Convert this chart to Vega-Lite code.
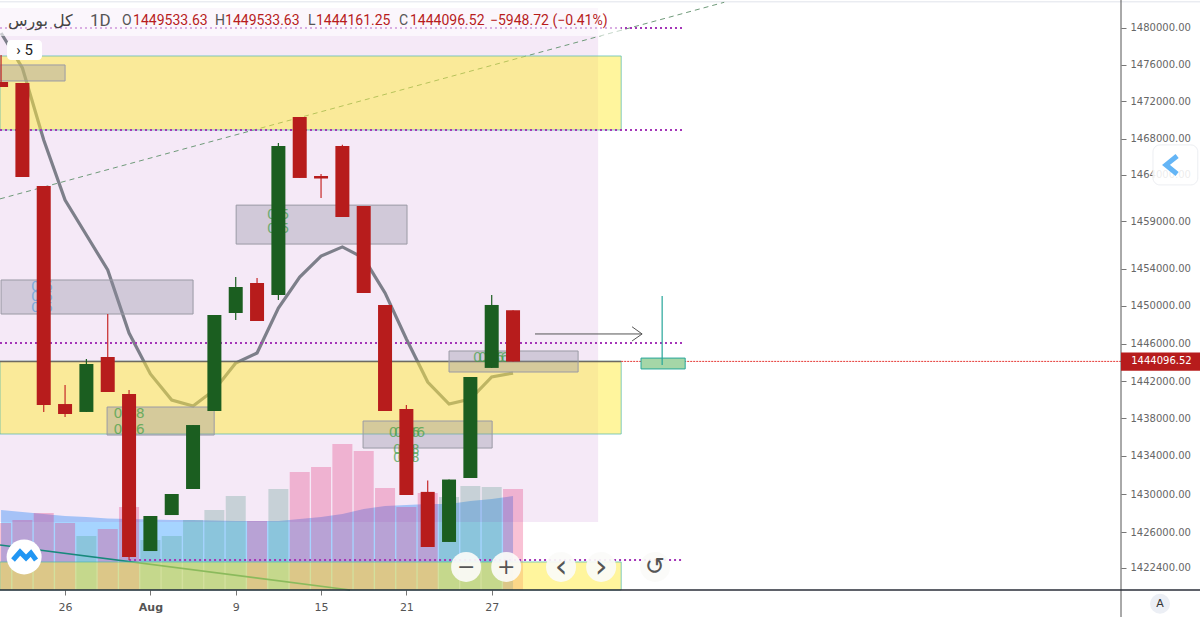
{
"$schema":"https://vega.github.io/schema/vega-lite/v6.json",
"autosize":"none","padding":{"left":0,"top":0,"right":79,"bottom":27},
"width":1121,"height":590,"background":"white",
"config":{"view":{"stroke":null}},
"datasets":{
"candles":[
{"bar":0,"open":1474100,"close":1473550,"high":1477030,"low":1473550},
{"bar":1,"open":1473980,"close":1463750,"high":1473980,"low":1463750},
{"bar":2,"open":1462790,"close":1439430,"high":1462790,"low":1438680},
{"bar":3,"open":1439530,"close":1438460,"high":1441570,"low":1438140},
{"bar":4,"open":1438680,"close":1443820,"high":1444350,"low":1438680},
{"bar":5,"open":1444570,"close":1440820,"high":1449130,"low":1440820},
{"bar":6,"open":1440600,"close":1423465,"high":1441040,"low":1423160},
{"bar":7,"open":1424070,"close":1427700,"high":1427700,"low":1424070},
{"bar":8,"open":1427800,"close":1430030,"high":1430030,"low":1427800},
{"bar":9,"open":1430550,"close":1437280,"high":1437280,"low":1430550},
{"bar":10,"open":1438780,"close":1449025,"high":1449025,"low":1438780},
{"bar":11,"open":1449240,"close":1452030,"high":1453110,"low":1448500},
{"bar":12,"open":1452470,"close":1448390,"high":1453000,"low":1448390},
{"bar":13,"open":1451170,"close":1467170,"high":1467500,"low":1450630},
{"bar":14,"open":1470300,"close":1463650,"high":1470300,"low":1463650},
{"bar":15,"open":1463860,"close":1463590,"high":1464070,"low":1461500},
{"bar":16,"open":1467170,"close":1459450,"high":1467300,"low":1459450},
{"bar":17,"open":1460630,"close":1451390,"high":1460630,"low":1451390},
{"bar":18,"open":1450090,"close":1438780,"high":1450090,"low":1438780},
{"bar":19,"open":1439000,"close":1429920,"high":1439430,"low":1429920},
{"bar":20,"open":1430250,"close":1424480,"high":1431430,"low":1424480},
{"bar":21,"open":1424990,"close":1431530,"high":1431530,"low":1424990},
{"bar":22,"open":1431690,"close":1442430,"high":1442430,"low":1431690},
{"bar":23,"open":1443400,"close":1450090,"high":1451170,"low":1443400},
{"bar":24,"open":1449533.63,"close":1444096.52,"high":1449533.63,"low":1444096.52}
],
"ma":[
{"bar":0,"price":1479400},{"bar":1,"price":1475620},{"bar":2,"price":1467840},{"bar":3,"price":1461270},{"bar":4,"price":1457550},{"bar":5,"price":1453870},{"bar":6,"price":1447120},{"bar":7,"price":1442750},{"bar":8,"price":1439960},{"bar":9,"price":1439320},{"bar":10,"price":1441040},{"bar":11,"price":1443930},{"bar":12,"price":1445000},{"bar":13,"price":1449770},{"bar":14,"price":1453100},{"bar":15,"price":1455340},{"bar":16,"price":1456300},{"bar":17,"price":1455130},{"bar":18,"price":1451390},{"bar":19,"price":1446490},{"bar":20,"price":1441890},{"bar":21,"price":1439530},{"bar":22,"price":1440070},{"bar":23,"price":1442430},{"bar":24,"price":1442850}
],
"volume":[
{"bar":0,"vol":670,"volMa":800,"dir":"down"},{"bar":1,"vol":700,"volMa":780,"dir":"down"},{"bar":2,"vol":770,"volMa":760,"dir":"down"},{"bar":3,"vol":670,"volMa":740,"dir":"down"},{"bar":4,"vol":540,"volMa":730,"dir":"up"},{"bar":5,"vol":610,"volMa":715,"dir":"down"},{"bar":6,"vol":830,"volMa":710,"dir":"down"},{"bar":7,"vol":500,"volMa":705,"dir":"up"},{"bar":8,"vol":540,"volMa":700,"dir":"up"},{"bar":9,"vol":700,"volMa":700,"dir":"up"},{"bar":10,"vol":800,"volMa":695,"dir":"up"},{"bar":11,"vol":940,"volMa":690,"dir":"up"},{"bar":12,"vol":690,"volMa":690,"dir":"down"},{"bar":13,"vol":1010,"volMa":690,"dir":"up"},{"bar":14,"vol":1180,"volMa":710,"dir":"down"},{"bar":15,"vol":1230,"volMa":730,"dir":"down"},{"bar":16,"vol":1460,"volMa":760,"dir":"down"},{"bar":17,"vol":1390,"volMa":810,"dir":"down"},{"bar":18,"vol":1020,"volMa":840,"dir":"down"},{"bar":19,"vol":830,"volMa":850,"dir":"down"},{"bar":20,"vol":970,"volMa":860,"dir":"down"},{"bar":21,"vol":930,"volMa":860,"dir":"up"},{"bar":22,"vol":1040,"volMa":890,"dir":"up"},{"bar":23,"vol":1030,"volMa":910,"dir":"up"},{"bar":24,"vol":1010,"volMa":940,"dir":"down"}
],
"yellowZones":[
{"bar":-0.05,"bar2":29.07,"price":1476920,"price2":1468910},
{"bar":-0.05,"bar2":29.07,"price":1444110,"price2":1436320},
{"bar":-0.05,"bar2":29.07,"price":1422960,"price2":1420100}
],
"grayBoxes":[
{"bar":0,"bar2":9,"price":1452790,"price2":1449130},
{"bar":11.02,"bar2":19.03,"price":1460730,"price2":1456600},
{"bar":4.97,"bar2":9.99,"price":1439210,"price2":1436210},
{"bar":16.97,"bar2":23.02,"price":1437710,"price2":1434820},
{"bar":21,"bar2":27.05,"price":1445210,"price2":1442960},
{"bar":-0.05,"bar2":3,"price":1475950,"price2":1474200}
],
"dotted":[
{"bar":-0.05,"bar2":31.97,"price":1479950},
{"bar":-0.05,"bar2":31.97,"price":1468910},
{"bar":-0.05,"bar2":31.97,"price":1446060},
{"bar":6,"bar2":31.97,"price":1423160}
],
"lvlLabels":[
{"bar":1.92,"price":1452030,"t":"0.5","c":"blue"},{"bar":1.92,"price":1450950,"t":"0.5","c":"blue"},{"bar":1.92,"price":1449770,"t":"0.5","c":"blue"},
{"bar":12.99,"price":1459660,"t":"0.5","c":"green"},{"bar":12.99,"price":1458180,"t":"0.5","c":"green"},
{"bar":6,"price":1438460,"t":"0.88","c":"green"},{"bar":6,"price":1436750,"t":"0.36","c":"green"},
{"bar":18.9,"price":1436430,"t":"0.36","c":"green"},{"bar":19.15,"price":1436430,"t":"0.36","c":"green"},
{"bar":18.9,"price":1434600,"t":"0.8","c":"green"},{"bar":19.1,"price":1434600,"t":"0.8","c":"green"},{"bar":18.9,"price":1433750,"t":"0.8","c":"green"},{"bar":19.1,"price":1433750,"t":"0.8","c":"green"},
{"bar":22.85,"price":1444450,"t":"0.36","c":"green"},{"bar":23.1,"price":1444450,"t":"0.36","c":"green"}
],
"header":[
{"bar":5.67,"price":1480700,"t":"O","c":"#555555"},{"bar":6.19,"price":1480700,"t":"1449533.63","c":"#b71c1c"},
{"bar":10.03,"price":1480700,"t":"H","c":"#555555"},{"bar":10.5,"price":1480700,"t":"1449533.63","c":"#b71c1c"},
{"bar":14.39,"price":1480700,"t":"L","c":"#555555"},{"bar":14.76,"price":1480700,"t":"1444161.25","c":"#b71c1c"},
{"bar":18.66,"price":1480700,"t":"C","c":"#555555"},{"bar":19.17,"price":1480700,"t":"1444096.52","c":"#b71c1c"},
{"bar":22.92,"price":1480700,"t":"−5948.72 (−0.41%)","c":"#b71c1c"}
],
"buttons":[
{"bar":21.8,"price":1422460,"t":"−","fs":22},{"bar":23.68,"price":1422460,"t":"+","fs":22},{"bar":26.25,"price":1422460,"t":"‹","fs":32},{"bar":28.13,"price":1422460,"t":"›","fs":32},{"bar":30.66,"price":1422460,"t":"↺","fs":24}
]
},
"encoding":{"x":{"field":"bar","type":"quantitative","title":null,
 "scale":{"domain":[-0.05,52.5],"nice":false,"zero":false,"padding":0},
 "axis":{"values":[3,7,11,15,19,23],"grid":false,"domain":false,"tickColor":"#777777","tickSize":5,"labelFont":"DejaVu Sans","labelFontSize":11,"labelColor":"#555555","labelPadding":6,"labelFontWeight":{"expr":"datum.value==7?'bold':'normal'"},
 "labelExpr":"datum.value==3?'26':datum.value==7?'Aug':datum.value==11?'9':datum.value==15?'15':datum.value==19?'21':'27'"}}},
"layer":[
{"encoding":{"y":{"field":"volMa","type":"quantitative","title":null,"axis":null,"stack":null,"scale":{"domain":[0,5900],"nice":false,"zero":true}}},
 "layer":[
 {"data":{"name":"volume"},"mark":{"type":"area","color":"#96cdff","opacity":0.85}},
 {"data":{"name":"volume"},"mark":{"type":"bar","orient":"vertical","size":20,"opacity":0.27},
  "encoding":{"y":{"field":"vol","type":"quantitative","title":null,"axis":null,"stack":null,"scale":{"domain":[0,5900],"nice":false,"zero":true}},
  "color":{"condition":{"test":"datum.dir=='down'","value":"#e91e63"},"value":"#439f7d"}}}
 ]},
{"encoding":{"y":{"field":"price","type":"quantitative","title":null,
  "scale":{"domain":[1420100,1422400,1426000,1430000,1434000,1438000,1442000,1446000,1450000,1454000,1459000,1464000,1468000,1472000,1476000,1480000,1483000],
           "range":[590,567.5,532,494.3,455.7,418.3,381,343.6,305.8,268.8,221.2,174.7,138.5,101.1,64.5,27.5,0],"nice":false,"zero":false},
  "axis":{"orient":"right","values":[1480000,1476000,1472000,1468000,1464000,1459000,1454000,1450000,1446000,1442000,1438000,1434000,1430000,1426000,1422400],"format":".2f","grid":false,"domain":false,"tickColor":"#777777","tickSize":5,"labelFont":"DejaVu Sans","labelFontSize":10,"labelColor":"#666666","labelPadding":4}}},
 "layer":[
 {"data":{"values":[{"bar":-0.05,"bar2":56.3,"price":1482800}]},"mark":{"type":"rule","color":"#e0e3eb","strokeWidth":1},"encoding":{"x2":{"field":"bar2"}}},
 {"data":{"values":[{"bar":-0.05,"bar2":27.99,"price":1482100,"price2":1427060}]},"mark":{"type":"rect","color":"#9c27b0","opacity":0.1},"encoding":{"x2":{"field":"bar2"},"y2":{"field":"price2"}}},
 {"data":{"name":"ma"},"mark":{"type":"line","color":"#7d7f8a","strokeWidth":3.2,"interpolate":"linear"}},
 {"data":{"values":[{"bar":-0.05,"price":1461400},{"bar":33.9,"price":1482750}]},"mark":{"type":"line","color":"#6f9a7a","strokeWidth":1,"strokeDash":[5,4]}},
 {"data":{"values":[{"bar":-0.05,"price":1424680},{"bar":16.36,"price":1420100}]},"mark":{"type":"line","color":"#17897c","strokeWidth":1.6}},
 {"data":{"name":"yellowZones"},"mark":{"type":"rect","color":"#ffeb3b","opacity":0.5},"encoding":{"x2":{"field":"bar2"},"y2":{"field":"price2"}}},
 {"data":{"name":"yellowZones"},"mark":{"type":"rect","fillOpacity":0,"stroke":"#4db6ac","strokeWidth":1,"strokeOpacity":0.7},"encoding":{"x2":{"field":"bar2"},"y2":{"field":"price2"}}},
 {"data":{"name":"dotted"},"mark":{"type":"rule","color":"#a435b8","strokeWidth":2,"strokeDash":[2,3]},"encoding":{"x2":{"field":"bar2"}}},
 {"data":{"values":[{"bar":-0.05,"bar2":29.07,"price":1444096.52}]},"mark":{"type":"rule","color":"#6d6a62","strokeWidth":1.5},"encoding":{"x2":{"field":"bar2"}}},
 {"data":{"values":[{"bar":29.07,"bar2":52.5,"price":1444096.52}]},"mark":{"type":"rule","color":"#e53935","strokeWidth":1,"strokeDash":[2,1]},"encoding":{"x2":{"field":"bar2"}}},
 {"data":{"values":[{"bar":-0.05,"bar2":29.07,"price":1482100,"price2":1479090}]},"mark":{"type":"rect","color":"#ffffff","opacity":0.6},"encoding":{"x2":{"field":"bar2"},"y2":{"field":"price2"}}},
 {"data":{"name":"grayBoxes"},"mark":{"type":"rect","fill":"#8f8fa0","fillOpacity":0.35,"stroke":"#9a9aa5","strokeWidth":1},"encoding":{"x2":{"field":"bar2"},"y2":{"field":"price2"}}},
 {"data":{"name":"lvlLabels"},"mark":{"type":"text","font":"DejaVu Sans","fontSize":14,"baseline":"middle","align":"center","opacity":0.7},"encoding":{"text":{"field":"t"},"color":{"condition":{"test":"datum.c=='blue'","value":"#5aa0dc"},"value":"#43a047"}}},
 {"data":{"name":"candles"},"mark":{"type":"rule","strokeWidth":1.2},"encoding":{"y":{"field":"high","type":"quantitative"},"y2":{"field":"low"},"color":{"condition":{"test":"datum.close<datum.open","value":"#c62828"},"value":"#1b5e20"}}},
 {"data":{"name":"candles"},"mark":{"type":"bar","size":14},"encoding":{"y":{"field":"open","type":"quantitative"},"y2":{"field":"close"},"color":{"condition":{"test":"datum.close<datum.open","value":"#b71c1c"},"value":"#1b5e20"}}},
 {"data":{"values":[{"bar":25.03,"price":1447020,"s":"a","n":0},{"bar":30.05,"price":1447020,"s":"a","n":1},{"bar":29.58,"price":1447780,"s":"b","n":0},{"bar":30.05,"price":1447020,"s":"b","n":1},{"bar":29.58,"price":1446280,"s":"b","n":2}]},"mark":{"type":"line","color":"#555555","strokeWidth":1},"encoding":{"detail":{"field":"s"},"order":{"field":"n"}}},
 {"data":{"values":[{"bar":30,"bar2":32.07,"price":1444450,"price2":1443290}]},"mark":{"type":"rect","fill":"#a5d6a7","stroke":"#26a69a","strokeWidth":1},"encoding":{"x2":{"field":"bar2"},"y2":{"field":"price2"}}},
 {"data":{"values":[{"bar":30.99,"price":1451060,"price2":1443710}]},"mark":{"type":"rule","color":"#26a69a","strokeWidth":1.2},"encoding":{"y2":{"field":"price2"}}},
 {"data":{"values":[{"bar":52.5,"price":1483000,"price2":1417000}]},"mark":{"type":"rule","color":"#555555","strokeWidth":1},"encoding":{"y2":{"field":"price2"}}},
 {"data":{"values":[{"bar":-0.05,"bar2":56.3,"price":1420100}]},"mark":{"type":"rule","color":"#2a2e39","strokeWidth":1.5},"encoding":{"x2":{"field":"bar2"}}},
 {"data":{"values":[{"bar":52.5,"bar2":56.3,"price":1445060,"price2":1443100}]},"mark":{"type":"rect","color":"#b71c1c"},"encoding":{"x2":{"field":"bar2"},"y2":{"field":"price2"}}},
 {"data":{"values":[{"bar":52.98,"price":1444096.52,"t":"1444096.52"}]},"mark":{"type":"text","font":"DejaVu Sans","fontSize":10,"color":"#ffffff","align":"left","baseline":"middle"},"encoding":{"text":{"field":"t"}}},
 {"data":{"values":[{"bar":54,"bar2":56.1,"price":1467290,"price2":1462900}]},"mark":{"type":"rect","fill":"#ffffff","fillOpacity":0.88,"stroke":"#eceef2","strokeWidth":1,"cornerRadius":7},"encoding":{"x2":{"field":"bar2"},"y2":{"field":"price2"}}},
 {"data":{"values":[{"bar":55.13,"price":1466070,"n":0},{"bar":54.61,"price":1465080,"n":1},{"bar":55.13,"price":1464080,"n":2}]},"mark":{"type":"line","color":"#64b5f6","strokeWidth":5},"encoding":{"order":{"field":"n"}}},
 {"data":{"values":[{"bar":54.33,"price":1418690,"t":"A"}]},"mark":{"type":"point","filled":true,"color":"#eceff5","size":400,"opacity":1}},
 {"data":{"values":[{"bar":54.33,"price":1418690,"t":"A"}]},"mark":{"type":"text","font":"DejaVu Sans","fontSize":11,"color":"#333333","baseline":"middle"},"encoding":{"text":{"field":"t"}}},
 {"data":{"name":"header"},"mark":{"type":"text","font":"Roboto","fontSize":14,"align":"left","baseline":"middle"},"encoding":{"text":{"field":"t"},"color":{"field":"c","type":"nominal","scale":null}}},
 {"data":{"values":[{"bar":0.32,"price":1480700,"t":"کل بورس"}]},"mark":{"type":"text","font":"DejaVu Sans","fontSize":16,"color":"#444444","align":"left","baseline":"middle"},"encoding":{"text":{"field":"t"}}},
 {"data":{"values":[{"bar":4.17,"price":1480700,"t":"1D"}]},"mark":{"type":"text","font":"Roboto","fontSize":17,"color":"#555555","align":"left","baseline":"middle"},"encoding":{"text":{"field":"t"}}},
 {"data":{"values":[{"bar":0.28,"bar2":1.92,"price":1478650,"price2":1476490}]},"mark":{"type":"rect","color":"#ffffff","cornerRadius":4},"encoding":{"x2":{"field":"bar2"},"y2":{"field":"price2"}}},
 {"data":{"values":[{"bar":1.1,"price":1477570,"t":"› 5"}]},"mark":{"type":"text","font":"Roboto","fontSize":15,"color":"#222222","baseline":"middle"},"encoding":{"text":{"field":"t"}}},
 {"data":{"values":[{"bar":1.08,"price":1423470}]},"mark":{"type":"point","filled":true,"color":"#ffffff","size":1225,"opacity":1}},
 {"data":{"values":[{"bar":0.56,"price":1423160},{"bar":0.89,"price":1423970},{"bar":1.17,"price":1423360},{"bar":1.4,"price":1423870},{"bar":1.64,"price":1423160}]},"mark":{"type":"line","color":"#2196f3","strokeWidth":5}},
 {"data":{"name":"buttons"},"mark":{"type":"point","filled":true,"color":"#fbfbf8","size":900,"opacity":0.92}},
 {"data":{"name":"buttons"},"mark":{"type":"text","font":"DejaVu Sans","color":"#555555","baseline":"middle"},"encoding":{"text":{"field":"t"},"size":{"field":"fs","type":"quantitative","scale":null}}}
 ]}
],
"resolve":{"scale":{"y":"independent"}}
}
